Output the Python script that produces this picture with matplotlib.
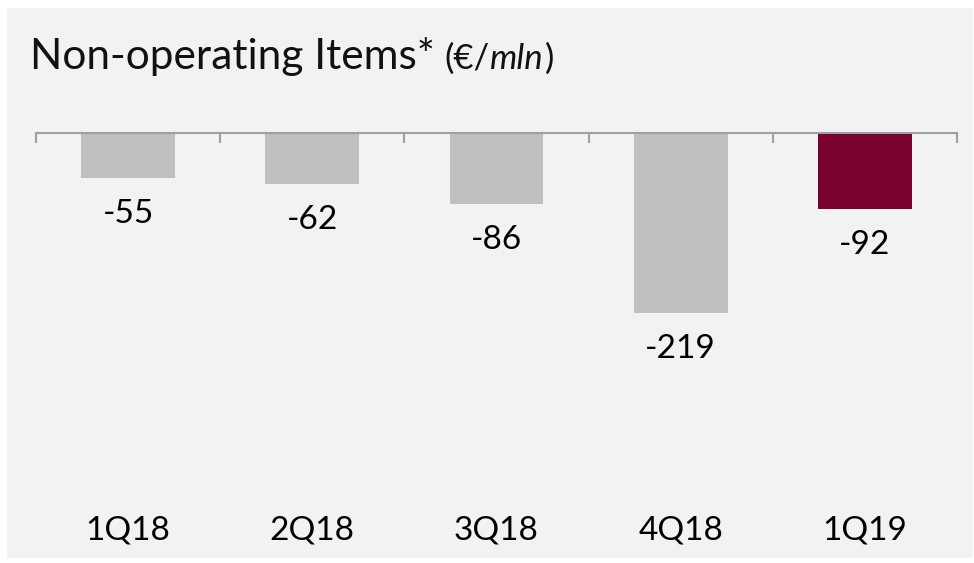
import matplotlib
matplotlib.use("Agg")
import matplotlib.pyplot as plt
from matplotlib.patches import Rectangle
from matplotlib.transforms import blended_transform_factory

quarters = ["1Q18", "2Q18", "3Q18", "4Q18", "1Q19"]
values = [-55, -62, -86, -219, -92]
colors = ["#bfbfbf", "#bfbfbf", "#bfbfbf", "#bfbfbf", "#7a0030"]

plt.rcParams["font.family"] = ["Lato", "DejaVu Sans"]

W, H = 974, 563
fig = plt.figure(figsize=(W / 100, H / 100), dpi=100)
fig.patch.set_facecolor("white")

# grey panel behind everything
fig.patches.append(Rectangle((7 / W, 1 - 558 / H), (973 - 7) / W, (558 - 8) / H,
                             transform=fig.transFigure, facecolor="#f2f2f2",
                             edgecolor="none", zorder=-10))

# title, pieces placed one after the other
renderer = fig.canvas.get_renderer()
x0 = 30
pieces = [("Non-operating Items*", 30.5, "normal", 10),
          ("(€/", 25, "normal", 0),
          ("mln", 25, "italic", 1),
          (")", 25, "normal", 0)]
for txt, size, style, gap in pieces:
    t = fig.text(x0 / W, 1 - 69 / H, txt, fontsize=size, style=style,
                 va="baseline", ha="left", color="#111111")
    x0 += t.get_window_extent(renderer).width + gap

ax = fig.add_axes([36 / W, 1 - 480 / H, 921 / W, (480 - 133) / H])
ax.set_facecolor("none")

x = range(len(quarters))
ax.bar(x, values, width=0.51, color=colors, zorder=1)

ax.set_xlim(-0.5, len(quarters) - 0.5)
ax.set_ylim(-422, 0)

for s in ["left", "right", "bottom"]:
    ax.spines[s].set_visible(False)
ax.spines["top"].set_color("#a0a0a0")
ax.spines["top"].set_linewidth(1.5)
ax.spines["top"].set_zorder(2)

ax.set_yticks([])
ax.xaxis.tick_top()
ax.set_xticks([i - 0.5 for i in range(len(quarters) + 1)])
ax.set_xticklabels([])
ax.tick_params(axis="x", direction="in", length=7, width=1.5, color="#a0a0a0")

for i, v in enumerate(values):
    ax.annotate(str(v), (i, v), xytext=(0, -26), textcoords="offset points",
                ha="center", va="center", fontsize=24)

trans = blended_transform_factory(ax.transData, fig.transFigure)
for i, q in enumerate(quarters):
    ax.text(i, 1 - 540 / H, q, transform=trans, ha="center", va="baseline",
            fontsize=24)

fig.savefig("out.png", dpi=100)
